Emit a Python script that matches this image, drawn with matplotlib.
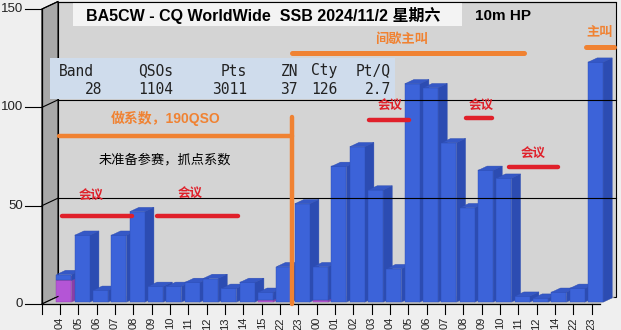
"""BA5CW CQ WW SSB 2024 - QSOs per hour, 10m, Excel-like 3D column chart."""
import matplotlib

matplotlib.use("Agg")
import matplotlib.pyplot as plt
from matplotlib.lines import Line2D
from matplotlib.patches import Polygon, Rectangle
from matplotlib.transforms import IdentityTransform

# Hours (UTC) and QSO counts
hours = ["04", "05", "06", "07", "08", "09", "10", "11", "12", "13", "14", "15",
         "22", "23", "00", "01", "02", "03", "04", "05", "06", "07", "08", "09",
         "10", "11", "12", "14", "22", "23"]
qso_blue = [3, 34, 6, 34, 46, 8, 8, 10, 12, 7, 10, 4, 18, 50, 17, 69, 79, 57,
            17, 111, 109, 81, 48, 67, 63, 3, 2, 5, 7, 122]
qso_purple = [11, 0, 0, 0, 0, 0, 0, 0, 0, 0, 0, 1, 0, 0, 1, 0, 0, 0, 0, 0, 0,
              0, 0, 0, 0, 0, 0, 0, 0, 0]
y_ticks = [0, 50, 100, 150]

# Summary table
table_head = ["Band", "QSOs", "Pts", "ZN", "Cty", "Pt/Q"]
table_vals = ["28", "1104", "3011", "37", "126", "2.7"]

W, H = 621, 330
CJK = ["Liberation Sans", "Noto Sans CJK SC", "DejaVu Sans"]
DEPTH = (16.0, 7.5)  # floor depth in pixels (x, y)

fig = plt.figure(figsize=(W / 100, H / 100), dpi=100)
fig.patch.set_facecolor("#efefef")
ax = fig.add_axes([42 / W, (H - 304) / H, 558 / W, 295 / H])
ax.set_xlim(-0.98, len(hours) - 0.54)
ax.set_ylim(0, 150)
ax.axis("off")

x0, x1 = ax.get_xlim()
ident = IdentityTransform()


def to_px(x, y, d=0.0):
    px, py = ax.transData.transform((x, y))
    return px + d * DEPTH[0], py + d * DEPTH[1]


def poly(pts, **kw):
    p = Polygon(pts, closed=True, transform=ident, clip_on=False, **kw)
    fig.add_artist(p)


def seg(a, b, **kw):
    fig.add_artist(Line2D([a[0], b[0]], [a[1], b[1]], transform=ident, **kw))


# walls and floor
poly([to_px(x0, 0, 1), to_px(x1, 0, 1), to_px(x1, 150, 1), to_px(x0, 150, 1)],
     facecolor="#d4d4d4", edgecolor="black", lw=0.8)
poly([to_px(x0, 0), to_px(x0, 0, 1), to_px(x0, 150, 1), to_px(x0, 150)],
     facecolor="#a8a8a8", edgecolor="black", lw=0.8)
poly([to_px(x0, 0), to_px(x1, 0), to_px(x1, 0, 1), to_px(x0, 0, 1)],
     facecolor="#c4c4c4", edgecolor="none")
for v in y_ticks[1:]:
    seg(to_px(x0, v, 1), to_px(x1, v, 1), color="black", lw=0.8)
for v in y_ticks:
    seg(to_px(x0, v), to_px(x0, v, 1), color="black", lw=0.8)
    px, py = to_px(x0, v)
    seg((px - 17, py), (px, py), color="black", lw=0.8)
    fig.text((px - 19) / W, py / H, str(v), ha="right", va="center",
             fontsize=9.5, family="Liberation Sans", color="#222222")
seg(to_px(x0, 0), to_px(x0, 150), color="black", lw=0.9)
seg(to_px(x0, 0), to_px(x1, 0), color="black", lw=0.9)

# x ticks and labels
for i, h in enumerate(hours):
    px, py = to_px(i, 0)
    seg((px, py), (px, py - 10), color="black", lw=0.8)
    fig.text(px / W, (py - 13) / H, h, rotation=90, ha="center", va="top",
             fontsize=8, family="Liberation Sans", color="#222222")
px, py = to_px(x0, 0)
seg((px, py), (px, py - 10), color="black", lw=0.8)

# 3D columns
BW = 0.41
D0, D1 = 0.25, 0.82
blue = ("#3c63d9", "#2c4cb2", "#3558c6")
purple = ("#b455d6", "#8a3fa6", "#a04cc0")


def column(i, b, t, cols):
    if t <= b:
        return
    xl, xr = i - BW, i + BW
    front, side, top = cols
    poly([to_px(xr, b, D0), to_px(xr, b, D1), to_px(xr, t, D1), to_px(xr, t, D0)],
         facecolor=side, edgecolor=side, lw=0.3)
    poly([to_px(xl, b, D0), to_px(xr, b, D0), to_px(xr, t, D0), to_px(xl, t, D0)],
         facecolor=front, edgecolor=side, lw=0.3)
    poly([to_px(xl, t, D0), to_px(xr, t, D0), to_px(xr, t, D1), to_px(xl, t, D1)],
         facecolor=top, edgecolor=side, lw=0.3)


for i in range(len(hours)):
    column(i, 0, qso_purple[i], purple)
    column(i, qso_purple[i], qso_purple[i] + qso_blue[i], blue)


# overlay texts, positions in pixels from top-left
def ptext(px, py, s, **kw):
    fig.text(px / W, 1 - py / H, s, **kw)


def pline(xa, ya, xb, yb, **kw):
    fig.add_artist(Line2D([xa / W, xb / W], [1 - ya / H, 1 - yb / H],
                          transform=fig.transFigure, solid_capstyle="round", **kw))


fig.add_artist(Rectangle((73 / W, 1 - 26 / H), 389 / W, 24 / H,
                         transform=fig.transFigure, facecolor="#f3f3f3",
                         edgecolor="none"))
ptext(86, 15, "BA5CW - CQ WorldWide  SSB 2024/11/2 星期六", family=CJK,
      fontsize=11.5, fontweight="bold", va="center")
ptext(475, 16, "10m HP", family="Liberation Sans", fontsize=11,
      fontweight="bold", va="center")

fig.add_artist(Rectangle((50 / W, 1 - 99 / H), 345 / W, 41 / H,
                         transform=fig.transFigure, facecolor="#cfdcec",
                         edgecolor="none"))
head_right = [94, 173, 247, 298, 337, 391]
val_right = [102, 173, 247, 298, 337, 391]
for hx, vx, hd, vl in zip(head_right, val_right, table_head, table_vals):
    ptext(hx, 71, hd, family="DejaVu Sans Mono", fontsize=10.5, ha="right",
          va="center", color="#222222")
    ptext(vx, 89, vl, family="DejaVu Sans Mono", fontsize=10.5, ha="right",
          va="center", color="#222222")

orange = "#f08232"
red = "#e0202a"
ptext(402, 40, "间歇主叫", family=CJK, fontsize=9.5, fontweight="bold",
      color=orange, ha="center", va="center")
pline(292, 53, 524, 53, color=orange, lw=3.6)
ptext(600, 33, "主叫", family=CJK, fontsize=9.5, fontweight="bold",
      color=orange, ha="center", va="center")
pline(586, 47, 614, 47, color=orange, lw=3.6)
ptext(166, 118, "做系数，190QSO", family=CJK, fontsize=10, fontweight="bold",
      color=orange, ha="center", va="center")
pline(59, 136, 292, 136, color=orange, lw=3.2)
pline(292, 117, 292, 304, color=orange, lw=3.2)
ptext(165, 160, "未准备参赛，抓点系数", family=CJK, fontsize=9.5,
      color="black", ha="center", va="center")

meetings = [(91, 196, 62, 132, 216), (190, 194, 157, 238, 216),
            (390, 106, 369, 409, 120), (481, 106, 466, 492, 118),
            (533, 154, 509, 558, 167)]
for tx, ty, la, lb, ly in meetings:
    ptext(tx, ty, "会议", family=CJK, fontsize=9, fontweight="bold",
          color=red, ha="center", va="center")
    pline(la, ly, lb, ly, color=red, lw=3.2)

fig.savefig("out.png", dpi=100, facecolor=fig.get_facecolor())
